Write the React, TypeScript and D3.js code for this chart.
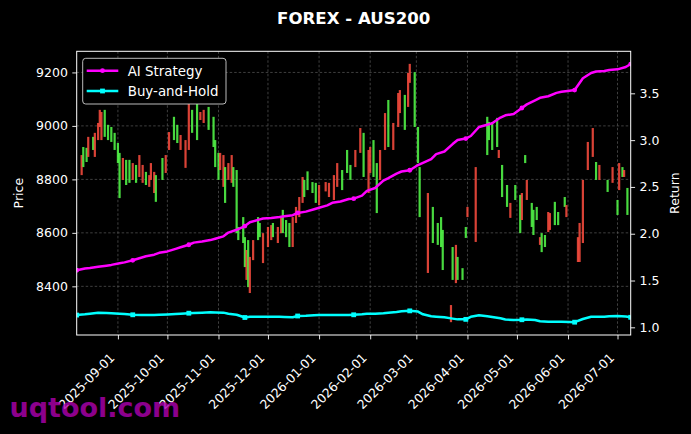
import React, { useEffect, useRef } from 'react';
import * as d3 from 'd3';

// daily bars (high / low extent, 1 = up bar)
const candleDates = [
  '2025-08-10', '2025-08-11', '2025-08-13', '2025-08-14', '2025-08-17', '2025-08-18', '2025-08-20', '2025-08-21',
  '2025-08-22', '2025-08-24', '2025-08-26', '2025-08-28', '2025-08-30', '2025-09-01', '2025-09-02', '2025-09-04',
  '2025-09-06', '2025-09-08', '2025-09-10', '2025-09-12', '2025-09-14', '2025-09-16', '2025-09-18', '2025-09-20',
  '2025-09-21', '2025-09-23', '2025-09-24', '2025-09-28', '2025-09-30', '2025-10-02', '2025-10-05', '2025-10-07',
  '2025-10-09', '2025-10-12', '2025-10-14', '2025-10-16', '2025-10-19', '2025-10-21', '2025-10-23', '2025-10-26',
  '2025-10-29', '2025-10-30', '2025-11-01', '2025-11-02', '2025-11-04', '2025-11-05', '2025-11-07', '2025-11-09',
  '2025-11-10', '2025-11-12', '2025-11-13', '2025-11-16', '2025-11-17', '2025-11-18', '2025-11-19', '2025-11-20',
  '2025-11-22', '2025-11-25', '2025-11-26', '2025-11-28', '2025-12-01', '2025-12-03', '2025-12-04', '2025-12-07',
  '2025-12-09', '2025-12-10', '2025-12-12', '2025-12-14', '2025-12-16', '2025-12-18', '2025-12-20', '2025-12-22',
  '2025-12-23', '2025-12-25', '2025-12-28', '2025-12-30', '2026-01-01', '2026-01-05', '2026-01-07', '2026-01-10',
  '2026-01-12', '2026-01-15', '2026-01-18', '2026-01-20', '2026-01-23', '2026-01-26', '2026-01-28', '2026-01-31',
  '2026-02-01', '2026-02-03', '2026-02-05', '2026-02-07', '2026-02-10', '2026-02-12', '2026-02-15', '2026-02-18',
  '2026-02-19', '2026-02-22', '2026-02-24', '2026-02-25', '2026-02-28', '2026-03-02', '2026-03-03', '2026-03-08',
  '2026-03-11', '2026-03-14', '2026-03-16', '2026-03-17', '2026-03-22', '2026-03-23', '2026-03-25', '2026-03-26',
  '2026-03-29', '2026-03-31', '2026-04-01', '2026-04-06', '2026-04-13', '2026-04-14', '2026-04-16', '2026-04-19',
  '2026-04-20', '2026-04-22', '2026-04-25', '2026-04-27', '2026-04-30', '2026-05-03', '2026-05-04', '2026-05-06',
  '2026-05-07', '2026-05-10', '2026-05-11', '2026-05-13', '2026-05-15', '2026-05-16', '2026-05-18', '2026-05-20',
  '2026-05-21', '2026-05-24', '2026-05-26', '2026-05-30', '2026-05-31', '2026-06-07', '2026-06-08', '2026-06-10',
  '2026-06-13', '2026-06-16', '2026-06-18', '2026-06-20', '2026-06-25', '2026-06-28', '2026-07-01', '2026-07-02',
  '2026-07-04', '2026-07-05', '2026-07-07',
];
const candleHigh = [
  8891, 8921, 8918, 8959, 8959, 8974, 9011, 9060, 9052, 9060, 9004, 8996, 8974, 8936, 8899, 8880,
  8873, 8873, 8861, 8854, 8891, 8854, 8828, 8816, 8861, 8828, 8816, 8880, 8891, 8977, 9034, 9004,
  8966, 8947, 9123, 9060, 9097, 9052, 9060, 9071, 9034, 8947, 8899, 8899, 8891, 8846, 8861, 8891,
  8846, 8835, 8622, 8659, 8584, 8536, 8573, 8510, 8573, 8659, 8637, 8599, 8622, 8629, 8637, 8622,
  8659, 8686, 8648, 8637, 8659, 8697, 8734, 8809, 8798, 8830, 8790, 8787, 8779, 8790, 8787, 8816,
  8861, 8835, 8910, 8854, 8910, 8992, 8974, 8910, 8921, 8947, 8861, 8910, 9048, 9097, 9011, 9123,
  9134, 9116, 9198, 9232, 9201, 8996, 8846, 8749, 8697, 8637, 8659, 8611, 8330, 8547, 8555, 8510,
  8468, 8622, 8697, 8846, 9034, 9015, 9011, 9030, 8910, 8854, 8779, 8712, 8779, 8742, 8749, 8891,
  8798, 8712, 8686, 8697, 8584, 8599, 8592, 8678, 8674, 8716, 8678, 8734, 8704, 8584, 8637, 8798,
  8940, 8992, 8865, 8854, 8798, 8846, 8723, 8861, 8846, 8835, 8768,
];
const candleLow = [
  8816, 8846, 8865, 8884, 8910, 8884, 8947, 8996, 8947, 8959, 8947, 8940, 8910, 8861, 8730, 8798,
  8779, 8787, 8798, 8787, 8809, 8787, 8779, 8772, 8798, 8749, 8716, 8798, 8824, 8910, 8947, 8936,
  8910, 8843, 8910, 8974, 8947, 9022, 9011, 8985, 8921, 8846, 8798, 8835, 8772, 8712, 8798, 8787,
  8772, 8599, 8573, 8562, 8472, 8424, 8397, 8375, 8498, 8573, 8584, 8487, 8547, 8573, 8584, 8562,
  8599, 8599, 8584, 8547, 8547, 8637, 8659, 8712, 8734, 8760, 8749, 8712, 8704, 8755, 8734, 8723,
  8772, 8760, 8824, 8798, 8846, 8899, 8809, 8749, 8824, 8809, 8674, 8798, 8910, 8921, 8910, 8996,
  9048, 8985, 9071, 9161, 8996, 8861, 8659, 8450, 8562, 8555, 8547, 8461, 8266, 8424, 8412, 8424,
  8424, 8581, 8659, 8566, 8891, 8947, 8910, 8921, 8880, 8734, 8697, 8656, 8723, 8599, 8648, 8861,
  8723, 8622, 8592, 8648, 8555, 8528, 8547, 8603, 8611, 8629, 8629, 8697, 8659, 8491, 8491, 8562,
  8835, 8884, 8798, 8798, 8753, 8787, 8667, 8760, 8809, 8809, 8667,
];
const candleUp = [
  0, 1, 1, 0, 1, 0, 0, 0, 0, 1, 1, 1, 1, 1, 1, 0,
  1, 1, 0, 1, 0, 0, 1, 0, 0, 0, 1, 1, 0, 0, 1, 1,
  0, 0, 0, 1, 1, 0, 0, 1, 1, 1, 1, 0, 0, 1, 0, 0,
  1, 1, 1, 1, 1, 0, 1, 0, 0, 1, 1, 0, 0, 0, 1, 0,
  0, 1, 1, 1, 0, 0, 0, 0, 1, 1, 1, 1, 0, 0, 0, 0,
  0, 1, 1, 1, 0, 0, 1, 0, 0, 1, 1, 0, 0, 1, 0, 0,
  0, 1, 0, 0, 1, 1, 1, 0, 1, 1, 1, 1, 0, 1, 0, 1,
  1, 1, 0, 0, 1, 1, 1, 1, 0, 1, 1, 0, 1, 1, 0, 1,
  0, 1, 1, 1, 0, 1, 1, 0, 0, 1, 1, 1, 0, 0, 0, 0,
  0, 0, 1, 0, 1, 0, 1, 0, 1, 0, 1,
];

// cumulative return, sampled every third trading day from 2025-08-07
const aiReturn = [
  1.610, 1.628, 1.634, 1.646, 1.659, 1.667, 1.684, 1.694, 1.716, 1.744, 1.759, 1.776, 1.796, 1.811, 1.838, 1.855,
  1.882, 1.905, 1.917, 1.932, 1.947, 1.972, 2.012, 2.042, 2.082, 2.122, 2.148, 2.163, 2.168, 2.178, 2.186, 2.198,
  2.222, 2.236, 2.262, 2.277, 2.303, 2.330, 2.345, 2.371, 2.375, 2.407, 2.458, 2.489, 2.568, 2.595, 2.643, 2.665,
  2.678, 2.734, 2.757, 2.796, 2.851, 2.879, 2.958, 3.001, 3.017, 3.044, 3.140, 3.165, 3.181, 3.241, 3.265, 3.279,
  3.343, 3.382, 3.425, 3.452, 3.469, 3.505, 3.516, 3.528, 3.535, 3.661, 3.717, 3.733, 3.739, 3.750, 3.756, 3.781,
  3.813,
];
const bhReturn = [
  1.131, 1.139, 1.146, 1.156, 1.154, 1.150, 1.145, 1.143, 1.134, 1.131, 1.131, 1.132, 1.135, 1.138, 1.142, 1.145,
  1.151, 1.154, 1.157, 1.160, 1.159, 1.157, 1.145, 1.134, 1.105, 1.112, 1.113, 1.113, 1.113, 1.112, 1.110, 1.107,
  1.121, 1.124, 1.129, 1.131, 1.131, 1.131, 1.131, 1.131, 1.134, 1.139, 1.144, 1.146, 1.150, 1.155, 1.163, 1.171,
  1.176, 1.168, 1.139, 1.119, 1.114, 1.107, 1.093, 1.085, 1.085, 1.112, 1.128, 1.118, 1.110, 1.096, 1.084, 1.078,
  1.081, 1.084, 1.078, 1.065, 1.060, 1.060, 1.060, 1.057, 1.055, 1.089, 1.113, 1.113, 1.114, 1.119, 1.121, 1.115,
  1.107,
];

const priceTicks = [8400, 8600, 8800, 9000, 9200];
const returnTicks = [1.0, 1.5, 2.0, 2.5, 3.0, 3.5];
const monthTicks = [
  '2025-09-01', '2025-10-01', '2025-11-01', '2025-12-01', '2026-01-01', '2026-02-01',
  '2026-03-01', '2026-04-01', '2026-05-01', '2026-06-01', '2026-07-01',
];

const W = 691;
const H = 434;
const FONT = '"DejaVu Sans", sans-serif';

export default function App() {
  const svgRef = useRef<SVGSVGElement>(null);

  useEffect(() => {
    if (!svgRef.current) return;
    const svg = d3.select(svgRef.current);
    svg.selectAll('*').remove();

    const left = 76.7, right = 630.7, top = 51.3, bottom = 335;
    const parse = d3.timeParse('%Y-%m-%d');

    const x = d3.scaleTime()
      .domain([new Date(2025, 7, 7), new Date(2026, 6, 9)])
      .range([left, right]);
    const yPrice = d3.scaleLinear().domain([8218, 9279]).range([bottom, top]);
    const yRet = d3.scaleLinear().domain([0.918, 3.949]).range([bottom, top]);

    // trading days (weekdays) for the return curves
    const tradingDays = d3.timeDay
      .range(new Date(2025, 7, 7), new Date(2026, 6, 10))
      .filter(d => d.getDay() % 6 !== 0);
    const returnDates = tradingDays.filter((_, i) => i % 3 === 0);

    svg.append('rect').attr('width', W).attr('height', H).attr('fill', '#000');

    svg.append('defs').append('clipPath').attr('id', 'plot-clip')
      .append('rect')
      .attr('x', left).attr('y', top)
      .attr('width', right - left).attr('height', bottom - top);

    // grid
    const grid = svg.append('g')
      .attr('stroke', '#5a5a5a')
      .attr('stroke-width', 0.7)
      .attr('stroke-dasharray', '2.5,2');
    monthTicks.forEach(t => {
      const gx = x(parse(t)!);
      grid.append('line').attr('x1', gx).attr('x2', gx).attr('y1', top).attr('y2', bottom);
    });
    priceTicks.forEach(t => {
      grid.append('line').attr('x1', left).attr('x2', right).attr('y1', yPrice(t)).attr('y2', yPrice(t));
    });

    // candles
    const plot = svg.append('g').attr('clip-path', 'url(#plot-clip)');
    plot.selectAll('rect.candle')
      .data(candleDates.map((d, i) => ({ date: parse(d)!, hi: candleHigh[i], lo: candleLow[i], up: candleUp[i] })))
      .enter()
      .append('rect')
      .attr('class', 'candle')
      .attr('x', d => x(d.date) - 1.1)
      .attr('width', 2.2)
      .attr('y', d => yPrice(d.hi))
      .attr('height', d => yPrice(d.lo) - yPrice(d.hi))
      .attr('fill', d => (d.up ? '#55ff4a' : '#ff4d40'))
      .attr('opacity', 0.85);

    // return curves
    const series = [
      { name: 'AI Strategy', values: aiReturn, color: '#ff00ff', marker: 'circle' },
      { name: 'Buy-and-Hold', values: bhReturn, color: '#00ffff', marker: 'square' },
    ];
    const line = d3.line<number>()
      .x((_, i) => x(returnDates[i]))
      .y(v => yRet(v));

    series.forEach(s => {
      plot.append('path')
        .attr('d', line(s.values) as string)
        .attr('fill', 'none')
        .attr('stroke', s.color)
        .attr('stroke-width', 2.5)
        .attr('stroke-linejoin', 'round');
      const marks = s.values.map((v, i) => ({ v, i })).filter(d => d.i % 8 === 0);
      if (s.marker === 'circle') {
        plot.selectAll(null).data(marks).enter().append('circle')
          .attr('cx', d => x(returnDates[d.i]))
          .attr('cy', d => yRet(d.v))
          .attr('r', 2.4)
          .attr('fill', s.color);
      } else {
        plot.selectAll(null).data(marks).enter().append('rect')
          .attr('x', d => x(returnDates[d.i]) - 2.4)
          .attr('y', d => yRet(d.v) - 2.4)
          .attr('width', 4.8)
          .attr('height', 4.8)
          .attr('fill', s.color);
      }
    });

    // axes
    const styleAxis = (g: d3.Selection<SVGGElement, unknown, null, undefined>) => {
      g.select('.domain').remove();
      g.selectAll('line').attr('stroke', '#fff').attr('stroke-width', 0.9);
      g.selectAll('text').attr('fill', '#fff').style('font-family', FONT).style('font-size', '12.5px');
    };

    const xAxis = svg.append('g')
      .attr('transform', `translate(0,${bottom})`)
      .call(d3.axisBottom(x)
        .tickValues(monthTicks.map(t => parse(t)!))
        .tickFormat(d3.timeFormat('%Y-%m-%d') as any)
        .tickSize(4.4));
    styleAxis(xAxis);
    xAxis.selectAll('text')
      .attr('x', 0).attr('y', 0).attr('dy', 0)
      .attr('text-anchor', 'end')
      .attr('transform', 'translate(-3,23.5) rotate(-45)');

    const yAxisL = svg.append('g')
      .attr('transform', `translate(${left},0)`)
      .call(d3.axisLeft(yPrice).tickValues(priceTicks).tickSize(4.4).tickPadding(4.4).tickFormat(d3.format('d')));
    styleAxis(yAxisL);

    const yAxisR = svg.append('g')
      .attr('transform', `translate(${right},0)`)
      .call(d3.axisRight(yRet).tickValues(returnTicks).tickSize(4.4).tickPadding(4.4).tickFormat(d3.format('.1f')));
    styleAxis(yAxisR);

    // spines
    svg.append('rect')
      .attr('x', left).attr('y', top)
      .attr('width', right - left).attr('height', bottom - top)
      .attr('fill', 'none').attr('stroke', '#fff').attr('stroke-width', 1);

    // legend
    const legend = svg.append('g').attr('transform', 'translate(82.7,58.3)');
    legend.append('rect')
      .attr('width', 143.3).attr('height', 45.7).attr('rx', 3)
      .attr('fill', '#000').attr('stroke', '#cfcfcf').attr('stroke-width', 0.9);
    series.forEach((s, i) => {
      const ly = 12.4 + i * 20.3;
      legend.append('line')
        .attr('x1', 4).attr('x2', 35.6).attr('y1', ly).attr('y2', ly)
        .attr('stroke', s.color).attr('stroke-width', 2.5);
      if (s.marker === 'circle') {
        legend.append('circle').attr('cx', 19.8).attr('cy', ly).attr('r', 2.4).attr('fill', s.color);
      } else {
        legend.append('rect').attr('x', 17.4).attr('y', ly - 2.4).attr('width', 4.8).attr('height', 4.8).attr('fill', s.color);
      }
      legend.append('text')
        .attr('x', 45).attr('y', ly + 4.9)
        .attr('fill', '#fff')
        .style('font-family', FONT).style('font-size', '13.4px')
        .text(s.name);
    });

    // titles
    svg.append('text')
      .attr('x', (left + right) / 2).attr('y', 24)
      .attr('text-anchor', 'middle')
      .attr('fill', '#fff')
      .style('font-family', FONT).style('font-size', '16.6px').style('font-weight', 'bold')
      .text('FOREX - AUS200');
    svg.append('text')
      .attr('transform', `translate(23,${(top + bottom) / 2}) rotate(-90)`)
      .attr('text-anchor', 'middle')
      .attr('fill', '#fff')
      .style('font-family', FONT).style('font-size', '12.5px')
      .text('Price');
    svg.append('text')
      .attr('transform', `translate(678.5,${(top + bottom) / 2}) rotate(-90)`)
      .attr('text-anchor', 'middle')
      .attr('fill', '#fff')
      .style('font-family', FONT).style('font-size', '12.5px')
      .text('Return');

    // watermark
    svg.append('text')
      .attr('x', 9.5).attr('y', 416.7)
      .attr('fill', '#b000b0').attr('opacity', 0.8)
      .style('font-family', FONT).style('font-size', '27px').style('font-weight', 'bold')
      .text('uqtool.com');
  }, []);

  return (
    <svg
      ref={svgRef}
      width={W}
      height={H}
      style={{ position: 'absolute', left: 0, top: 0, display: 'block' }}
    />
  );
}
